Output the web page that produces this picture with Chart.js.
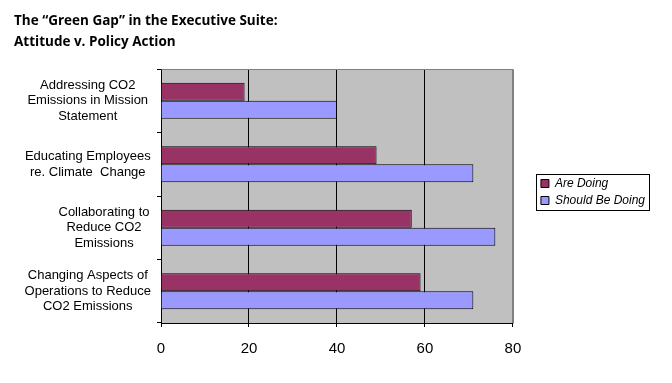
<!DOCTYPE html>
<html>
<head>
<meta charset="utf-8">
<title>Green Gap</title>
<script src="https://cdn.jsdelivr.net/npm/chart.js@4.4.1/dist/chart.umd.min.js"></script>
<style>
  html, body { margin: 0; padding: 0; background: #fff; }
  #wrap { width: 672px; height: 383px; }
</style>
</head>
<body>
<div id="wrap"><canvas id="chart" width="672" height="383"></canvas></div>
<script>
// Valores
const titleLines = ['The \u201CGreen Gap\u201D in the Executive Suite:', 'Attitude v. Policy Action'];
const categories = [
    ['Addressing CO2', 'Emissions in Mission', 'Statement'],
    ['Educating Employees', 're. Climate  Change'],
    ['         Collaborating to', '         Reduce CO2', '         Emissions'],
    ['Changing Aspects of', 'Operations to Reduce', 'CO2 Emissions']
];
const areDoing = [19, 49, 57, 59];
const shouldBeDoing = [40, 71, 76, 71];
const xTicks = [0, 20, 40, 60, 80];

const FONT = "'Liberation Sans', Arial, sans-serif";

// Fondo gris del área de trazado y borde superior/derecho
const plotFrame = {
    id: 'plotFrame',
    beforeDraw(chart) {
        const { ctx, chartArea: a } = chart;
        ctx.save();
        ctx.fillStyle = '#c0c0c0';
        ctx.fillRect(a.left, a.top, a.right - a.left, a.bottom - a.top);
        ctx.restore();
    },
    beforeDatasetsDraw(chart) {
        const { ctx, chartArea: a } = chart;
        const l = Math.round(a.left) + 0.5, t = Math.round(a.top) + 0.5;
        const r = Math.round(a.right) + 0.5, b = Math.round(a.bottom) + 0.5;
        ctx.save();
        ctx.strokeStyle = '#808080';
        ctx.lineWidth = 1;
        ctx.beginPath();
        ctx.moveTo(l, t);
        ctx.lineTo(r, t);
        ctx.lineTo(r, b);
        ctx.stroke();
        ctx.restore();
    }
};

// Mueve la leyenda a la derecha y le dibuja el recuadro
const legendBox = {
    id: 'legendBox',
    afterLayout(chart) {
        chart.legend.left += 23;
        chart.legend.right += 23;
        chart.legend.top -= 4;
        chart.legend.bottom -= 4;
    },
    afterDraw(chart) {
        const boxes = chart.legend.legendHitBoxes;
        if (!boxes || !boxes.length) return;
        let l = Infinity, t = Infinity, r = -Infinity, b = -Infinity;
        boxes.forEach(h => {
            l = Math.min(l, h.left);
            t = Math.min(t, h.top);
            r = Math.max(r, h.left + h.width);
            b = Math.max(b, h.top + h.height);
        });
        const { ctx } = chart;
        ctx.save();
        ctx.strokeStyle = '#000';
        ctx.lineWidth = 1;
        ctx.strokeRect(Math.round(l - 5) + 0.5, Math.round(t - 4) + 0.5, Math.round(r - l + 9), Math.round(b - t + 7));
        ctx.restore();
    }
};

new Chart(document.getElementById('chart'), {
    type: 'bar',
    data: {
        labels: categories,
        datasets: [{
            label: 'Are Doing',
            data: areDoing,
            backgroundColor: '#993366',
            borderColor: '#000',
            borderWidth: 1,
            barPercentage: 1,
            categoryPercentage: 0.57
        }, {
            label: 'Should Be Doing',
            data: shouldBeDoing,
            backgroundColor: '#9999ff',
            borderColor: '#000',
            borderWidth: 1,
            barPercentage: 1,
            categoryPercentage: 0.57
        }]
    },
    options: {
        indexAxis: 'y',
        responsive: false,
        animation: false,
        layout: {
            padding: { left: 14, right: 40, top: 0, bottom: 12 }
        },
        plugins: {
            title: {
                display: true,
                text: titleLines,
                align: 'start',
                color: '#000',
                font: { family: "'Open Sans', Lato, sans-serif", size: 13.5, weight: 'bold', lineHeight: 1.556 },
                padding: { top: 11, bottom: 16 }
            },
            legend: {
                position: 'right',
                fullSize: false,
                align: 'center',
                labels: {
                    boxWidth: 8,
                    boxHeight: 8,
                    padding: 5,
                    color: '#000',
                    font: { family: FONT, size: 12, style: 'italic' }
                }
            },
            tooltip: { enabled: false }
        },
        scales: {
            x: {
                type: 'linear',
                position: 'bottom',
                min: 0,
                max: 80,
                afterBuildTicks: (s) => { s.ticks = xTicks.map(v => ({ value: v })); },
                grid: {
                    color: (c) => (c.tick && c.tick.value === 80 ? '#808080' : '#000'),
                    tickColor: '#000',
                    tickLength: 4,
                    lineWidth: 1
                },
                border: { color: '#000', width: 1 },
                ticks: {
                    color: '#000',
                    padding: 13,
                    font: { family: FONT, size: 15 }
                }
            },
            y: {
                type: 'category',
                afterFit: (s) => { s.width = 147; },
                grid: {
                    drawOnChartArea: false,
                    offset: true,
                    color: '#000',
                    tickLength: 4
                },
                border: { color: '#000', width: 1 },
                ticks: {
                    color: '#000',
                    padding: 6,
                    crossAlign: 'center',
                    autoSkip: false,
                    font: { family: FONT, size: 13 }
                }
            }
        }
    },
    plugins: [plotFrame, legendBox]
});
</script>
</body>
</html>
